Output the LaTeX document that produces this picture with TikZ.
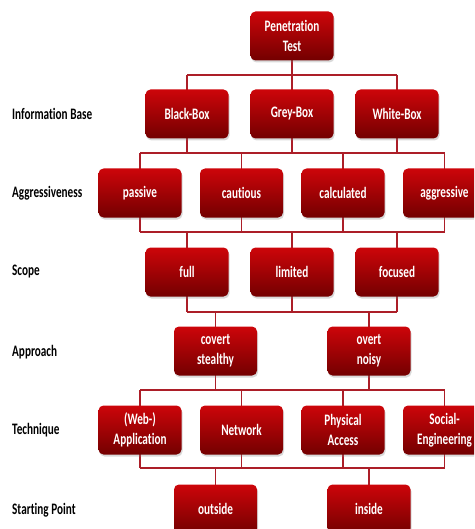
\documentclass[tikz,border=0pt]{standalone}
\usepackage{fontspec}
\setmainfont{Carlito}[FakeStretch=0.7,Ligatures=NoCommon]
\usetikzlibrary{shadows,backgrounds}
\definecolor{boxtop}{RGB}{205,5,10}
\definecolor{boxbot}{RGB}{115,0,0}
\definecolor{linecol}{RGB}{172,30,40}
\tikzset{
  box/.style={rectangle, rounded corners=5pt, minimum width=83pt, minimum height=49pt,
    inner sep=0pt, top color=boxtop, bottom color=boxbot, text=white, align=center,
    font=\fontsize{16}{20}\selectfont\bfseries,
    drop shadow={opacity=0.3, shadow xshift=1pt, shadow yshift=-2pt}},
  lbl/.style={anchor=west, inner sep=0pt, font=\fontsize{16}{20}\selectfont\bfseries},
  conn/.style={draw=linecol, line width=1.6pt}
}
\begin{document}
\begin{tikzpicture}[x=1pt,y=-1pt]
\useasboundingbox (0,0) rectangle (474,529);
\clip (0,0) rectangle (474,529);
% bus coordinates
\coordinate (b1) at (0,75);
\coordinate (b2) at (0,153);
\coordinate (b3) at (0,232);
\coordinate (b4) at (0,312);
\coordinate (b5) at (0,390);
\coordinate (b6) at (0,468);
% labels
\node[lbl] (lInfo) at (12,114) {Information Base};
\node[lbl] (lAgg) at (12,193) {Aggressiveness};
\node[lbl] (lScope) at (12,272) {Scope};
\node[lbl] (lAppr) at (12,352) {Approach};
\node[lbl] (lTech) at (12,430) {Technique};
\node[lbl] (lStart) at (12,510) {Starting Point};
% boxes
\node[box] (pt) at (292,36) {Penetration\\Test};
\node[box] (bb) at (187,114) {Black-Box};
\node[box] (gb) at (292,114) {Grey-Box};
\node[box] (wb) at (397,114) {White-Box};
\node[box] (pas) at (140,193) {passive};
\node[box] (cau) at (241.5,193) {cautious};
\node[box] (cal) at (343,193) {calculated};
\node[box] (agg) at (444.5,193) {aggressive};
\node[box] (full) at (187,272) {full};
\node[box] (lim) at (292,272) {limited};
\node[box] (foc) at (397,272) {focused};
\node[box] (cov) at (215.5,351) {covert\\stealthy};
\node[box] (ove) at (369,351) {overt\\noisy};
\node[box] (web) at (140,430) {(Web-)\\Application};
\node[box] (net) at (241.5,430) {Network};
\node[box] (phy) at (343,430) {Physical\\Access};
\node[box] (soc) at (444.5,430) {Social-\\Engineering};
\node[box] (out) at (215.5,509) {outside};
\node[box] (ins) at (369,509) {inside};
% connectors
\begin{scope}[on background layer]
% level 0 -> 1
\draw[conn] (pt.center) -- (pt.center |- b1);
\draw[conn] (bb.center |- b1) -- (wb.center |- b1);
\foreach \c in {bb,gb,wb} \draw[conn] (\c.center |- b1) -- (\c.center);
% level 1 -> 2
\foreach \p in {bb,gb,wb} \draw[conn] (\p.center) -- (\p.center |- b2);
\draw[conn] (pas.center |- b2) -- (agg.center |- b2);
\foreach \c in {pas,cau,cal,agg} \draw[conn] (\c.center |- b2) -- (\c.center);
% level 2 -> 3
\foreach \p in {pas,cau,cal,agg} \draw[conn] (\p.center) -- (\p.center |- b3);
\draw[conn] (pas.center |- b3) -- (agg.center |- b3);
\foreach \c in {full,lim,foc} \draw[conn] (\c.center |- b3) -- (\c.center);
% level 3 -> 4
\foreach \p in {full,lim,foc} \draw[conn] (\p.center) -- (\p.center |- b4);
\draw[conn] (full.center |- b4) -- (foc.center |- b4);
\foreach \c in {cov,ove} \draw[conn] (\c.center |- b4) -- (\c.center);
% level 4 -> 5
\foreach \p in {cov,ove} \draw[conn] (\p.center) -- (\p.center |- b5);
\draw[conn] (web.center |- b5) -- (soc.center |- b5);
\foreach \c in {web,net,phy,soc} \draw[conn] (\c.center |- b5) -- (\c.center);
% level 5 -> 6
\foreach \p in {web,net,phy,soc} \draw[conn] (\p.center) -- (\p.center |- b6);
\draw[conn] (web.center |- b6) -- (soc.center |- b6);
\foreach \c in {out,ins} \draw[conn] (\c.center |- b6) -- (\c.center);
\end{scope}
\end{tikzpicture}
\end{document}
